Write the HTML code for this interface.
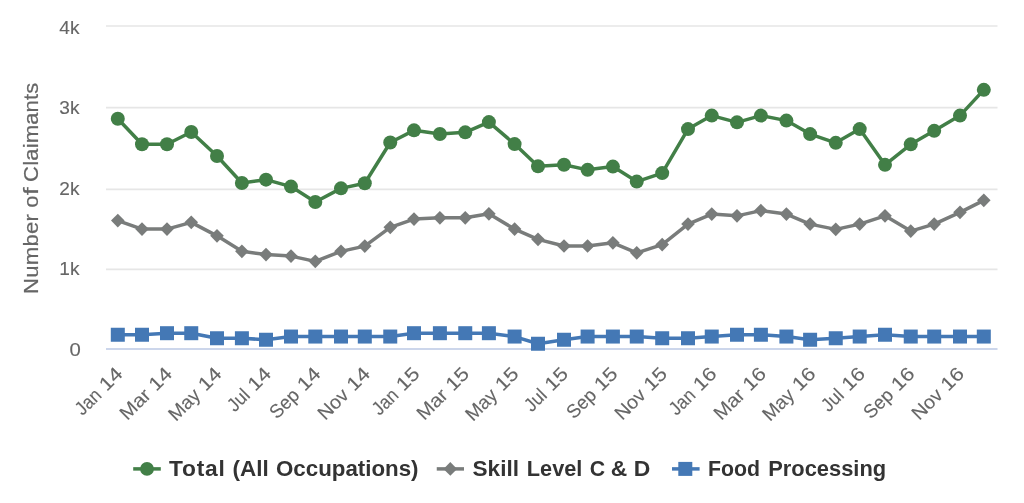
<!DOCTYPE html>
<html><head><meta charset="utf-8"><title>Chart</title>
<style>
html,body{margin:0;padding:0;background:#fff;}
body{width:1024px;height:503px;overflow:hidden;}
svg{display:block;will-change:transform;opacity:0.999;}
text{font-family:"Liberation Sans",sans-serif;}
</style></head><body>
<svg width="1024" height="503" viewBox="0 0 1024 503">
<rect width="1024" height="503" fill="#ffffff"/>

<line x1="106" x2="997.5" y1="26.0" y2="26.0" stroke="#E6E6E6" stroke-width="1.7"/>
<line x1="106" x2="997.5" y1="107.6" y2="107.6" stroke="#E6E6E6" stroke-width="1.7"/>
<line x1="106" x2="997.5" y1="189.4" y2="189.4" stroke="#E6E6E6" stroke-width="1.7"/>
<line x1="106" x2="997.5" y1="269.3" y2="269.3" stroke="#E6E6E6" stroke-width="1.7"/>
<line x1="106" x2="997.5" y1="348.95" y2="348.95" stroke="#CCD6EB" stroke-width="1.9"/>
<text x="79.5" y="33.85" text-anchor="end" font-size="19.1" fill="#666666" stroke="#666666" stroke-width="0.12" textLength="20.2" lengthAdjust="spacingAndGlyphs">4k</text>
<text x="79.5" y="113.9" text-anchor="end" font-size="19.1" fill="#666666" stroke="#666666" stroke-width="0.12" textLength="20.2" lengthAdjust="spacingAndGlyphs">3k</text>
<text x="79.5" y="195.0" text-anchor="end" font-size="19.1" fill="#666666" stroke="#666666" stroke-width="0.12" textLength="20.2" lengthAdjust="spacingAndGlyphs">2k</text>
<text x="79.5" y="275.0" text-anchor="end" font-size="19.1" fill="#666666" stroke="#666666" stroke-width="0.12" textLength="20.2" lengthAdjust="spacingAndGlyphs">1k</text>
<text x="80.9" y="355.6" text-anchor="end" font-size="19.1" fill="#666666" stroke="#666666" stroke-width="0.12" textLength="11.3" lengthAdjust="spacingAndGlyphs">0</text>
<g transform="translate(37.9,292.3) rotate(-90)" font-size="20.6" fill="#666666" stroke="#666666" stroke-width="0.2">
<text x="-1.82" y="0" textLength="80.34" lengthAdjust="spacingAndGlyphs" style="letter-spacing:0.302px">Number</text>
<text x="84.64" y="0" textLength="12.17" lengthAdjust="spacingAndGlyphs" style="letter-spacing:0.000px">o</text>
<text x="97.08" y="0" textLength="8.01" lengthAdjust="spacingAndGlyphs" style="letter-spacing:0.000px">f</text>
<text x="110.43" y="0" textLength="99.36" lengthAdjust="spacingAndGlyphs" style="letter-spacing:0.142px">Claimants</text>
</g>
<g transform="translate(123.9,375.0) rotate(-45)" text-anchor="end" font-size="19.1" fill="#666666" stroke="#666666" stroke-width="0.12"><text x="-30.20" y="0" textLength="28.3" lengthAdjust="spacingAndGlyphs">Jan</text><text x="0" y="0" textLength="24.2" lengthAdjust="spacingAndGlyphs">14</text></g>
<g transform="translate(173.4,375.0) rotate(-45)" text-anchor="end" font-size="19.1" fill="#666666" stroke="#666666" stroke-width="0.12"><text x="-30.20" y="0" textLength="34.9" lengthAdjust="spacingAndGlyphs">Mar</text><text x="0" y="0" textLength="24.2" lengthAdjust="spacingAndGlyphs">14</text></g>
<g transform="translate(222.9,375.0) rotate(-45)" text-anchor="end" font-size="19.1" fill="#666666" stroke="#666666" stroke-width="0.12"><text x="-30.20" y="0" textLength="36.2" lengthAdjust="spacingAndGlyphs">May</text><text x="0" y="0" textLength="24.2" lengthAdjust="spacingAndGlyphs">14</text></g>
<g transform="translate(272.4,375.0) rotate(-45)" text-anchor="end" font-size="19.1" fill="#666666" stroke="#666666" stroke-width="0.12"><text x="-30.20" y="0" textLength="23.1" lengthAdjust="spacingAndGlyphs">Jul</text><text x="0" y="0" textLength="24.2" lengthAdjust="spacingAndGlyphs">14</text></g>
<g transform="translate(321.9,375.0) rotate(-45)" text-anchor="end" font-size="19.1" fill="#666666" stroke="#666666" stroke-width="0.12"><text x="-30.20" y="0" textLength="33.2" lengthAdjust="spacingAndGlyphs">Sep</text><text x="0" y="0" textLength="24.2" lengthAdjust="spacingAndGlyphs">14</text></g>
<g transform="translate(371.4,375.0) rotate(-45)" text-anchor="end" font-size="19.1" fill="#666666" stroke="#666666" stroke-width="0.12"><text x="-30.20" y="0" textLength="35.0" lengthAdjust="spacingAndGlyphs">Nov</text><text x="0" y="0" textLength="24.2" lengthAdjust="spacingAndGlyphs">14</text></g>
<g transform="translate(420.9,375.0) rotate(-45)" text-anchor="end" font-size="19.1" fill="#666666" stroke="#666666" stroke-width="0.12"><text x="-30.20" y="0" textLength="28.3" lengthAdjust="spacingAndGlyphs">Jan</text><text x="0" y="0" textLength="24.2" lengthAdjust="spacingAndGlyphs">15</text></g>
<g transform="translate(470.4,375.0) rotate(-45)" text-anchor="end" font-size="19.1" fill="#666666" stroke="#666666" stroke-width="0.12"><text x="-30.20" y="0" textLength="34.9" lengthAdjust="spacingAndGlyphs">Mar</text><text x="0" y="0" textLength="24.2" lengthAdjust="spacingAndGlyphs">15</text></g>
<g transform="translate(519.9,375.0) rotate(-45)" text-anchor="end" font-size="19.1" fill="#666666" stroke="#666666" stroke-width="0.12"><text x="-30.20" y="0" textLength="36.2" lengthAdjust="spacingAndGlyphs">May</text><text x="0" y="0" textLength="24.2" lengthAdjust="spacingAndGlyphs">15</text></g>
<g transform="translate(569.4,375.0) rotate(-45)" text-anchor="end" font-size="19.1" fill="#666666" stroke="#666666" stroke-width="0.12"><text x="-30.20" y="0" textLength="23.1" lengthAdjust="spacingAndGlyphs">Jul</text><text x="0" y="0" textLength="24.2" lengthAdjust="spacingAndGlyphs">15</text></g>
<g transform="translate(618.9,375.0) rotate(-45)" text-anchor="end" font-size="19.1" fill="#666666" stroke="#666666" stroke-width="0.12"><text x="-30.20" y="0" textLength="33.2" lengthAdjust="spacingAndGlyphs">Sep</text><text x="0" y="0" textLength="24.2" lengthAdjust="spacingAndGlyphs">15</text></g>
<g transform="translate(668.4,375.0) rotate(-45)" text-anchor="end" font-size="19.1" fill="#666666" stroke="#666666" stroke-width="0.12"><text x="-30.20" y="0" textLength="35.0" lengthAdjust="spacingAndGlyphs">Nov</text><text x="0" y="0" textLength="24.2" lengthAdjust="spacingAndGlyphs">15</text></g>
<g transform="translate(717.9,375.0) rotate(-45)" text-anchor="end" font-size="19.1" fill="#666666" stroke="#666666" stroke-width="0.12"><text x="-30.20" y="0" textLength="28.3" lengthAdjust="spacingAndGlyphs">Jan</text><text x="0" y="0" textLength="24.2" lengthAdjust="spacingAndGlyphs">16</text></g>
<g transform="translate(767.4,375.0) rotate(-45)" text-anchor="end" font-size="19.1" fill="#666666" stroke="#666666" stroke-width="0.12"><text x="-30.20" y="0" textLength="34.9" lengthAdjust="spacingAndGlyphs">Mar</text><text x="0" y="0" textLength="24.2" lengthAdjust="spacingAndGlyphs">16</text></g>
<g transform="translate(816.9,375.0) rotate(-45)" text-anchor="end" font-size="19.1" fill="#666666" stroke="#666666" stroke-width="0.12"><text x="-30.20" y="0" textLength="36.2" lengthAdjust="spacingAndGlyphs">May</text><text x="0" y="0" textLength="24.2" lengthAdjust="spacingAndGlyphs">16</text></g>
<g transform="translate(866.4,375.0) rotate(-45)" text-anchor="end" font-size="19.1" fill="#666666" stroke="#666666" stroke-width="0.12"><text x="-30.20" y="0" textLength="23.1" lengthAdjust="spacingAndGlyphs">Jul</text><text x="0" y="0" textLength="24.2" lengthAdjust="spacingAndGlyphs">16</text></g>
<g transform="translate(915.9,375.0) rotate(-45)" text-anchor="end" font-size="19.1" fill="#666666" stroke="#666666" stroke-width="0.12"><text x="-30.20" y="0" textLength="33.2" lengthAdjust="spacingAndGlyphs">Sep</text><text x="0" y="0" textLength="24.2" lengthAdjust="spacingAndGlyphs">16</text></g>
<g transform="translate(965.4,375.0) rotate(-45)" text-anchor="end" font-size="19.1" fill="#666666" stroke="#666666" stroke-width="0.12"><text x="-30.20" y="0" textLength="35.0" lengthAdjust="spacingAndGlyphs">Nov</text><text x="0" y="0" textLength="24.2" lengthAdjust="spacingAndGlyphs">16</text></g>
<path d="M 117.8 118.7 L 142.0 144.25 L 167.0 144.25 L 191.25 132.05 L 217.0 155.95 L 241.9 183.0 L 266.0 179.65 L 291.0 186.6 L 315.3 201.95 L 341.0 188.35 L 364.8 183.3 L 390.25 142.45 L 414.0 130.35 L 439.9 133.95 L 465.25 132.35 L 488.9 122.1 L 514.6 144.1 L 538.0 166.35 L 564.0 164.75 L 587.6 169.85 L 612.9 166.6 L 636.75 181.6 L 662.2 173.1 L 688.0 129.1 L 711.75 115.6 L 737.0 122.35 L 760.9 115.6 L 786.4 120.6 L 810.1 134.1 L 835.75 142.85 L 859.7 129.1 L 885.0 164.85 L 910.75 144.35 L 934.2 130.85 L 960.0 115.6 L 983.8 89.85" fill="none" stroke="#427F47" stroke-width="3.5" stroke-linejoin="round" stroke-linecap="round"/>
<circle cx="117.8" cy="118.7" r="7.0" fill="#427F47"/>
<circle cx="142.0" cy="144.25" r="7.0" fill="#427F47"/>
<circle cx="167.0" cy="144.25" r="7.0" fill="#427F47"/>
<circle cx="191.25" cy="132.05" r="7.0" fill="#427F47"/>
<circle cx="217.0" cy="155.95" r="7.0" fill="#427F47"/>
<circle cx="241.9" cy="183.0" r="7.0" fill="#427F47"/>
<circle cx="266.0" cy="179.65" r="7.0" fill="#427F47"/>
<circle cx="291.0" cy="186.6" r="7.0" fill="#427F47"/>
<circle cx="315.3" cy="201.95" r="7.0" fill="#427F47"/>
<circle cx="341.0" cy="188.35" r="7.0" fill="#427F47"/>
<circle cx="364.8" cy="183.3" r="7.0" fill="#427F47"/>
<circle cx="390.25" cy="142.45" r="7.0" fill="#427F47"/>
<circle cx="414.0" cy="130.35" r="7.0" fill="#427F47"/>
<circle cx="439.9" cy="133.95" r="7.0" fill="#427F47"/>
<circle cx="465.25" cy="132.35" r="7.0" fill="#427F47"/>
<circle cx="488.9" cy="122.1" r="7.0" fill="#427F47"/>
<circle cx="514.6" cy="144.1" r="7.0" fill="#427F47"/>
<circle cx="538.0" cy="166.35" r="7.0" fill="#427F47"/>
<circle cx="564.0" cy="164.75" r="7.0" fill="#427F47"/>
<circle cx="587.6" cy="169.85" r="7.0" fill="#427F47"/>
<circle cx="612.9" cy="166.6" r="7.0" fill="#427F47"/>
<circle cx="636.75" cy="181.6" r="7.0" fill="#427F47"/>
<circle cx="662.2" cy="173.1" r="7.0" fill="#427F47"/>
<circle cx="688.0" cy="129.1" r="7.0" fill="#427F47"/>
<circle cx="711.75" cy="115.6" r="7.0" fill="#427F47"/>
<circle cx="737.0" cy="122.35" r="7.0" fill="#427F47"/>
<circle cx="760.9" cy="115.6" r="7.0" fill="#427F47"/>
<circle cx="786.4" cy="120.6" r="7.0" fill="#427F47"/>
<circle cx="810.1" cy="134.1" r="7.0" fill="#427F47"/>
<circle cx="835.75" cy="142.85" r="7.0" fill="#427F47"/>
<circle cx="859.7" cy="129.1" r="7.0" fill="#427F47"/>
<circle cx="885.0" cy="164.85" r="7.0" fill="#427F47"/>
<circle cx="910.75" cy="144.35" r="7.0" fill="#427F47"/>
<circle cx="934.2" cy="130.85" r="7.0" fill="#427F47"/>
<circle cx="960.0" cy="115.6" r="7.0" fill="#427F47"/>
<circle cx="983.8" cy="89.85" r="7.0" fill="#427F47"/>
<path d="M 117.8 220.6 L 142.0 229.1 L 167.0 229.1 L 191.25 222.35 L 217.0 235.85 L 241.9 251.35 L 266.0 254.6 L 291.0 256.1 L 315.3 261.35 L 341.0 251.35 L 364.8 246.1 L 390.25 227.35 L 414.0 219.1 L 439.9 217.85 L 465.25 217.85 L 488.9 213.85 L 514.6 229.1 L 538.0 239.35 L 564.0 245.95 L 587.6 245.95 L 612.9 242.85 L 636.75 252.85 L 662.2 244.6 L 688.0 224.1 L 711.75 214.1 L 737.0 215.85 L 760.9 210.6 L 786.4 214.1 L 810.1 224.1 L 835.75 229.35 L 859.7 224.1 L 885.0 215.85 L 910.75 231.1 L 934.2 224.1 L 960.0 212.35 L 983.8 200.35" fill="none" stroke="#797C7B" stroke-width="3.5" stroke-linejoin="round" stroke-linecap="round"/>
<path d="M 117.8 213.79999999999998 L 124.6 220.6 L 117.8 227.4 L 111.0 220.6 Z" fill="#797C7B"/>
<path d="M 142.0 222.29999999999998 L 148.8 229.1 L 142.0 235.9 L 135.2 229.1 Z" fill="#797C7B"/>
<path d="M 167.0 222.29999999999998 L 173.8 229.1 L 167.0 235.9 L 160.2 229.1 Z" fill="#797C7B"/>
<path d="M 191.25 215.54999999999998 L 198.05 222.35 L 191.25 229.15 L 184.45 222.35 Z" fill="#797C7B"/>
<path d="M 217.0 229.04999999999998 L 223.8 235.85 L 217.0 242.65 L 210.2 235.85 Z" fill="#797C7B"/>
<path d="M 241.9 244.54999999999998 L 248.70000000000002 251.35 L 241.9 258.15 L 235.1 251.35 Z" fill="#797C7B"/>
<path d="M 266.0 247.79999999999998 L 272.8 254.6 L 266.0 261.4 L 259.2 254.6 Z" fill="#797C7B"/>
<path d="M 291.0 249.3 L 297.8 256.1 L 291.0 262.90000000000003 L 284.2 256.1 Z" fill="#797C7B"/>
<path d="M 315.3 254.55 L 322.1 261.35 L 315.3 268.15000000000003 L 308.5 261.35 Z" fill="#797C7B"/>
<path d="M 341.0 244.54999999999998 L 347.8 251.35 L 341.0 258.15 L 334.2 251.35 Z" fill="#797C7B"/>
<path d="M 364.8 239.29999999999998 L 371.6 246.1 L 364.8 252.9 L 358.0 246.1 Z" fill="#797C7B"/>
<path d="M 390.25 220.54999999999998 L 397.05 227.35 L 390.25 234.15 L 383.45 227.35 Z" fill="#797C7B"/>
<path d="M 414.0 212.29999999999998 L 420.8 219.1 L 414.0 225.9 L 407.2 219.1 Z" fill="#797C7B"/>
<path d="M 439.9 211.04999999999998 L 446.7 217.85 L 439.9 224.65 L 433.09999999999997 217.85 Z" fill="#797C7B"/>
<path d="M 465.25 211.04999999999998 L 472.05 217.85 L 465.25 224.65 L 458.45 217.85 Z" fill="#797C7B"/>
<path d="M 488.9 207.04999999999998 L 495.7 213.85 L 488.9 220.65 L 482.09999999999997 213.85 Z" fill="#797C7B"/>
<path d="M 514.6 222.29999999999998 L 521.4 229.1 L 514.6 235.9 L 507.8 229.1 Z" fill="#797C7B"/>
<path d="M 538.0 232.54999999999998 L 544.8 239.35 L 538.0 246.15 L 531.2 239.35 Z" fill="#797C7B"/>
<path d="M 564.0 239.14999999999998 L 570.8 245.95 L 564.0 252.75 L 557.2 245.95 Z" fill="#797C7B"/>
<path d="M 587.6 239.14999999999998 L 594.4 245.95 L 587.6 252.75 L 580.8000000000001 245.95 Z" fill="#797C7B"/>
<path d="M 612.9 236.04999999999998 L 619.6999999999999 242.85 L 612.9 249.65 L 606.1 242.85 Z" fill="#797C7B"/>
<path d="M 636.75 246.04999999999998 L 643.55 252.85 L 636.75 259.65 L 629.95 252.85 Z" fill="#797C7B"/>
<path d="M 662.2 237.79999999999998 L 669.0 244.6 L 662.2 251.4 L 655.4000000000001 244.6 Z" fill="#797C7B"/>
<path d="M 688.0 217.29999999999998 L 694.8 224.1 L 688.0 230.9 L 681.2 224.1 Z" fill="#797C7B"/>
<path d="M 711.75 207.29999999999998 L 718.55 214.1 L 711.75 220.9 L 704.95 214.1 Z" fill="#797C7B"/>
<path d="M 737.0 209.04999999999998 L 743.8 215.85 L 737.0 222.65 L 730.2 215.85 Z" fill="#797C7B"/>
<path d="M 760.9 203.79999999999998 L 767.6999999999999 210.6 L 760.9 217.4 L 754.1 210.6 Z" fill="#797C7B"/>
<path d="M 786.4 207.29999999999998 L 793.1999999999999 214.1 L 786.4 220.9 L 779.6 214.1 Z" fill="#797C7B"/>
<path d="M 810.1 217.29999999999998 L 816.9 224.1 L 810.1 230.9 L 803.3000000000001 224.1 Z" fill="#797C7B"/>
<path d="M 835.75 222.54999999999998 L 842.55 229.35 L 835.75 236.15 L 828.95 229.35 Z" fill="#797C7B"/>
<path d="M 859.7 217.29999999999998 L 866.5 224.1 L 859.7 230.9 L 852.9000000000001 224.1 Z" fill="#797C7B"/>
<path d="M 885.0 209.04999999999998 L 891.8 215.85 L 885.0 222.65 L 878.2 215.85 Z" fill="#797C7B"/>
<path d="M 910.75 224.29999999999998 L 917.55 231.1 L 910.75 237.9 L 903.95 231.1 Z" fill="#797C7B"/>
<path d="M 934.2 217.29999999999998 L 941.0 224.1 L 934.2 230.9 L 927.4000000000001 224.1 Z" fill="#797C7B"/>
<path d="M 960.0 205.54999999999998 L 966.8 212.35 L 960.0 219.15 L 953.2 212.35 Z" fill="#797C7B"/>
<path d="M 983.8 193.54999999999998 L 990.5999999999999 200.35 L 983.8 207.15 L 977.0 200.35 Z" fill="#797C7B"/>
<path d="M 117.8 334.75 L 142.0 334.75 L 167.0 333.2 L 191.25 333.2 L 217.0 338.25 L 241.9 338.25 L 266.0 339.75 L 291.0 336.55 L 315.3 336.55 L 341.0 336.55 L 364.8 336.55 L 390.25 336.55 L 414.0 333.2 L 439.9 333.2 L 465.25 333.2 L 488.9 333.2 L 514.6 336.55 L 538.0 343.75 L 564.0 339.75 L 587.6 336.55 L 612.9 336.55 L 636.75 336.55 L 662.2 338.25 L 688.0 338.25 L 711.75 336.55 L 737.0 334.75 L 760.9 334.75 L 786.4 336.55 L 810.1 339.75 L 835.75 338.25 L 859.7 336.55 L 885.0 334.75 L 910.75 336.55 L 934.2 336.55 L 960.0 336.55 L 983.8 336.55" fill="none" stroke="#4478B5" stroke-width="3.5" stroke-linejoin="round" stroke-linecap="round"/>
<rect x="110.8" y="327.75" width="14.0" height="14.0" fill="#4478B5"/>
<rect x="135.0" y="327.75" width="14.0" height="14.0" fill="#4478B5"/>
<rect x="160.0" y="326.2" width="14.0" height="14.0" fill="#4478B5"/>
<rect x="184.25" y="326.2" width="14.0" height="14.0" fill="#4478B5"/>
<rect x="210.0" y="331.25" width="14.0" height="14.0" fill="#4478B5"/>
<rect x="234.9" y="331.25" width="14.0" height="14.0" fill="#4478B5"/>
<rect x="259.0" y="332.75" width="14.0" height="14.0" fill="#4478B5"/>
<rect x="284.0" y="329.55" width="14.0" height="14.0" fill="#4478B5"/>
<rect x="308.3" y="329.55" width="14.0" height="14.0" fill="#4478B5"/>
<rect x="334.0" y="329.55" width="14.0" height="14.0" fill="#4478B5"/>
<rect x="357.8" y="329.55" width="14.0" height="14.0" fill="#4478B5"/>
<rect x="383.25" y="329.55" width="14.0" height="14.0" fill="#4478B5"/>
<rect x="407.0" y="326.2" width="14.0" height="14.0" fill="#4478B5"/>
<rect x="432.9" y="326.2" width="14.0" height="14.0" fill="#4478B5"/>
<rect x="458.25" y="326.2" width="14.0" height="14.0" fill="#4478B5"/>
<rect x="481.9" y="326.2" width="14.0" height="14.0" fill="#4478B5"/>
<rect x="507.6" y="329.55" width="14.0" height="14.0" fill="#4478B5"/>
<rect x="531.0" y="336.75" width="14.0" height="14.0" fill="#4478B5"/>
<rect x="557.0" y="332.75" width="14.0" height="14.0" fill="#4478B5"/>
<rect x="580.6" y="329.55" width="14.0" height="14.0" fill="#4478B5"/>
<rect x="605.9" y="329.55" width="14.0" height="14.0" fill="#4478B5"/>
<rect x="629.75" y="329.55" width="14.0" height="14.0" fill="#4478B5"/>
<rect x="655.2" y="331.25" width="14.0" height="14.0" fill="#4478B5"/>
<rect x="681.0" y="331.25" width="14.0" height="14.0" fill="#4478B5"/>
<rect x="704.75" y="329.55" width="14.0" height="14.0" fill="#4478B5"/>
<rect x="730.0" y="327.75" width="14.0" height="14.0" fill="#4478B5"/>
<rect x="753.9" y="327.75" width="14.0" height="14.0" fill="#4478B5"/>
<rect x="779.4" y="329.55" width="14.0" height="14.0" fill="#4478B5"/>
<rect x="803.1" y="332.75" width="14.0" height="14.0" fill="#4478B5"/>
<rect x="828.75" y="331.25" width="14.0" height="14.0" fill="#4478B5"/>
<rect x="852.7" y="329.55" width="14.0" height="14.0" fill="#4478B5"/>
<rect x="878.0" y="327.75" width="14.0" height="14.0" fill="#4478B5"/>
<rect x="903.75" y="329.55" width="14.0" height="14.0" fill="#4478B5"/>
<rect x="927.2" y="329.55" width="14.0" height="14.0" fill="#4478B5"/>
<rect x="953.0" y="329.55" width="14.0" height="14.0" fill="#4478B5"/>
<rect x="976.8" y="329.55" width="14.0" height="14.0" fill="#4478B5"/>
<line x1="133.2" x2="160.8" y1="468.9" y2="468.9" stroke="#427F47" stroke-width="3.5"/>
<circle cx="147.0" cy="468.9" r="6.9" fill="#427F47"/>
<line x1="436.75" x2="464" y1="468.9" y2="468.9" stroke="#797C7B" stroke-width="3.5"/>
<path d="M 450.3 462.09999999999997 L 457.1 468.9 L 450.3 475.7 L 443.5 468.9 Z" fill="#797C7B"/>
<line x1="672" x2="699.6" y1="468.9" y2="468.9" stroke="#4478B5" stroke-width="3.5"/>
<rect x="678.3" y="461.9" width="14.0" height="14.0" fill="#4478B5"/>
<g font-size="21.3" font-weight="bold" fill="#333333">
<text x="169.09" y="475.9" textLength="56.58" lengthAdjust="spacingAndGlyphs" style="letter-spacing:0.717px">Total</text>
<text x="232.64" y="475.9" textLength="36.26" lengthAdjust="spacingAndGlyphs" style="letter-spacing:0.000px">(All</text>
<text x="275.96" y="475.9" textLength="142.60" lengthAdjust="spacingAndGlyphs" style="letter-spacing:0.000px">Occupations)</text>
<text x="472.56" y="475.9" textLength="46.43" lengthAdjust="spacingAndGlyphs" style="letter-spacing:0.000px">Skill</text>
<text x="526.87" y="475.9" textLength="55.52" lengthAdjust="spacingAndGlyphs" style="letter-spacing:0.000px">Level</text>
<text x="589.80" y="475.9" textLength="15.38" lengthAdjust="spacingAndGlyphs" style="letter-spacing:0.000px">C</text>
<text x="610.73" y="475.9" textLength="16.50" lengthAdjust="spacingAndGlyphs" style="letter-spacing:0.000px">&amp;</text>
<text x="633.89" y="475.9" textLength="16.56" lengthAdjust="spacingAndGlyphs" style="letter-spacing:0.000px">D</text>
<text x="707.90" y="475.9" textLength="52.04" lengthAdjust="spacingAndGlyphs" style="letter-spacing:0.000px">Food</text>
<text x="768.16" y="475.9" textLength="118.01" lengthAdjust="spacingAndGlyphs" style="letter-spacing:0.000px">Processing</text>
</g>
</svg></body></html>
